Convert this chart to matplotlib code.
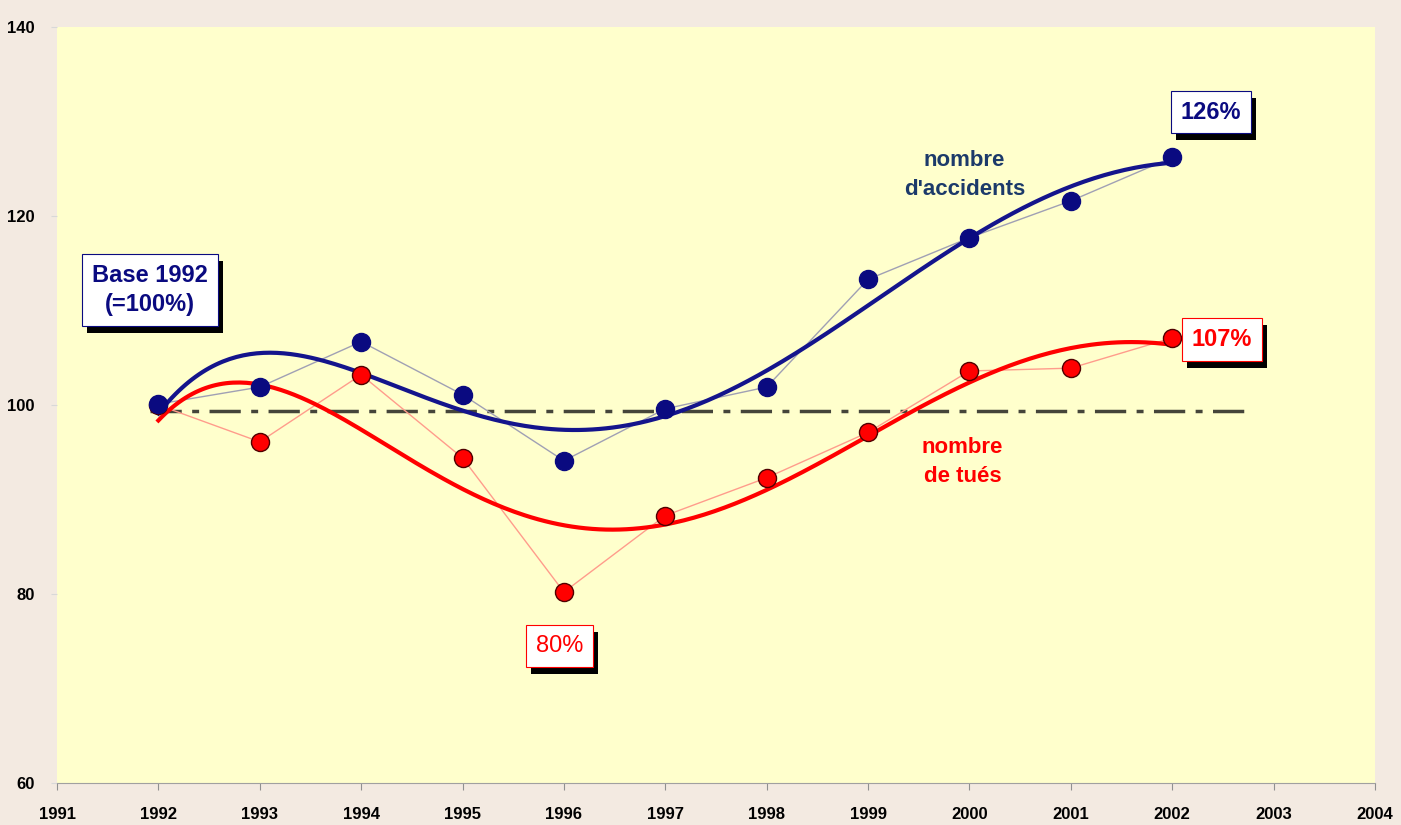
import numpy as np
import matplotlib
matplotlib.use("Agg")
import matplotlib.pyplot as plt
from matplotlib.patches import Rectangle
from matplotlib.transforms import IdentityTransform

plt.rcParams['font.family'] = ['Liberation Sans', 'DejaVu Sans']

# values (base 1992 = 100)
years = np.arange(1992, 2003)
accidents = [100.1, 101.9, 106.7, 101.1, 94.1, 99.6, 101.9, 113.3, 117.7, 121.6, 126.2]
tues = [100.0, 96.1, 103.2, 94.4, 80.2, 88.3, 92.3, 97.1, 103.6, 103.9, 107.1]
base_level = 99.4

NAVY = '#0a0a80'
RED = '#ff0000'

fig = plt.figure(figsize=(14.01, 8.25), dpi=100, facecolor='#f3eae1')
ax = fig.add_axes([57 / 1401, 42 / 825, 1318 / 1401, 756 / 825])
ax.set_facecolor('#ffffcc')
ax.set_xlim(1991, 2004)
ax.set_ylim(60, 140)

# polynomial trend lines, as in the spreadsheet
xs = np.linspace(1992, 2002, 300)
deg = 5
fit_acc = np.polyfit(years - 1997, accidents, deg)
fit_tues = np.polyfit(years - 1997, tues, deg)

ax.plot([1991.92, 2002.72], [base_level, base_level], color='#45453a', lw=2.5,
        ls=(0, (9, 3, 2, 3)), zorder=2)

ax.plot(years, accidents, color='#a0a0b4', lw=1, zorder=3)
ax.plot(years, tues, color='#ff9c8c', lw=1, zorder=3)
ax.plot(xs, np.polyval(fit_acc, xs - 1997), color='#14148c', lw=3, zorder=4)
ax.plot(xs, np.polyval(fit_tues, xs - 1997), color=RED, lw=3, zorder=4)
ax.plot(years, tues, 'o', ms=13, mfc=RED, mec='#500000', mew=1, zorder=5)
ax.plot(years, accidents, 'o', ms=13, mfc=NAVY, mec=NAVY, zorder=6)

boxes = []


def label_box(x, y, txt, color, weight='bold', size=17):
    t = ax.text(x, y, txt, ha='center', va='center', fontsize=size,
                fontweight=weight, color=color, zorder=8, linespacing=1.35,
                bbox=dict(boxstyle='square,pad=0.42', fc='white', ec=color, lw=0.8))
    boxes.append(t)


label_box(1991.92, 112.2, 'Base 1992\n(=100%)', NAVY)
label_box(2002.38, 131.0, '126%', NAVY)
label_box(2002.49, 106.9, '107%', RED)
label_box(1995.96, 74.5, '80%', RED, weight='normal')

ax.text(1999.95, 124.3, "nombre\nd'accidents", color='#1c3a6a', fontsize=16,
        fontweight='bold', ha='center', va='center', linespacing=1.5)
ax.text(1999.93, 94.0, "nombre\nde tués", color=RED, fontsize=16,
        fontweight='bold', ha='center', va='center', linespacing=1.5)

ax.set_xticks(range(1991, 2005))
ax.set_yticks(range(60, 141, 20))
ax.tick_params(axis='x', length=5, color='#909090', pad=12, labelsize=12)
ax.tick_params(axis='y', length=4, color='#d8d8d8', pad=12, labelsize=12)
for lab in ax.get_xticklabels() + ax.get_yticklabels():
    lab.set_fontweight('bold')
for s in ['top', 'right', 'left']:
    ax.spines[s].set_visible(False)
ax.spines['bottom'].set_color('#a0a0a0')

# black drop shadows behind the label boxes
fig.canvas.draw()
for t in boxes:
    bb = t.get_bbox_patch().get_window_extent()
    sh = Rectangle((bb.x0 + 5, bb.y0 - 7), bb.width, bb.height,
                   fc='black', ec='none', zorder=7)
    sh.set_transform(IdentityTransform())
    ax.add_artist(sh)

fig.savefig('out.png', dpi=100, facecolor=fig.get_facecolor())
